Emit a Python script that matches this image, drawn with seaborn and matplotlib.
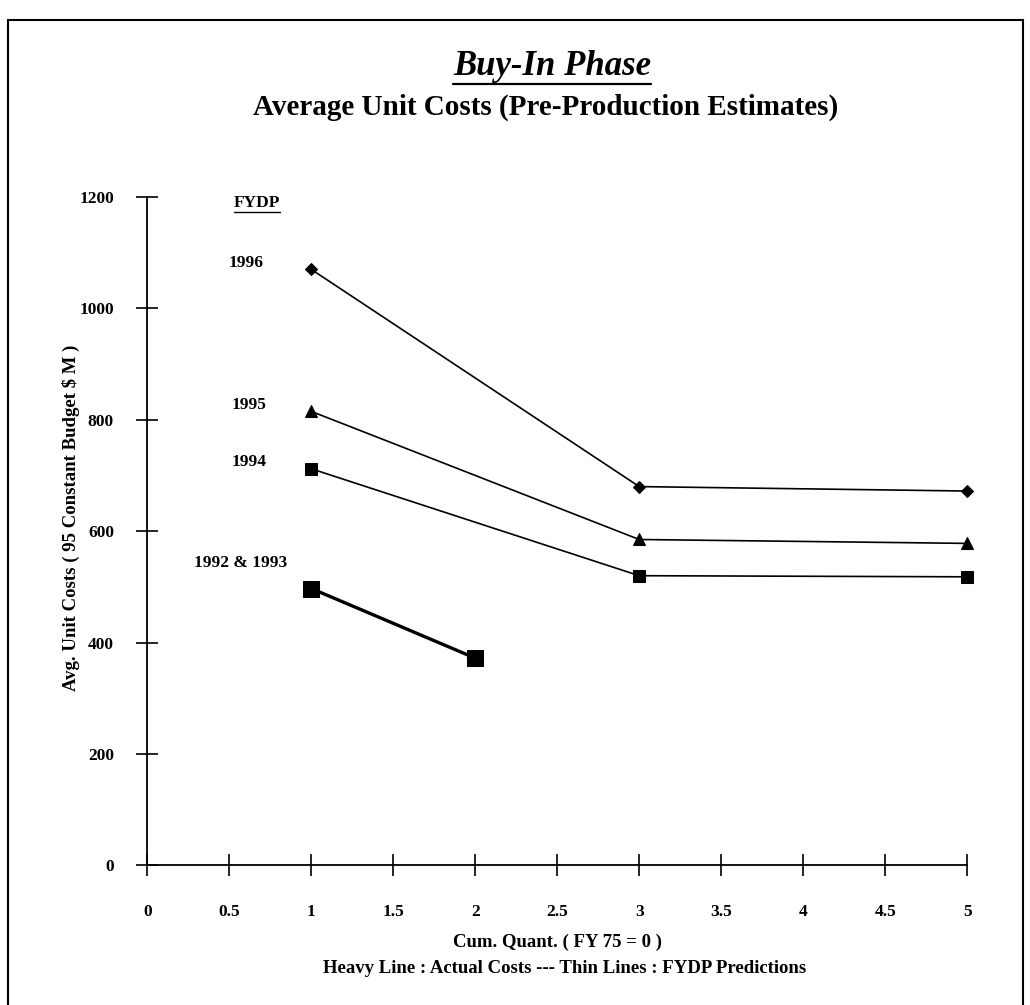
import matplotlib

matplotlib.use("Agg")
import matplotlib.pyplot as plt
import pandas as pd
import seaborn as sns
from matplotlib.lines import Line2D
from matplotlib.patches import Rectangle

# values
cum_quant_pred = [1, 3, 5]
fydp_1996 = [1070, 680, 672]
fydp_1995 = [815, 585, 578]
fydp_1994 = [712, 520, 518]
cum_quant_actual = [1, 2]
actual_1992_93 = [497, 372]

x_ticks = [0, 0.5, 1, 1.5, 2, 2.5, 3, 3.5, 4, 4.5, 5]
x_tick_labels = ["0", "0.5", "1", "1.5", "2", "2.5", "3", "3.5", "4", "4.5", "5"]
y_ticks = [0, 200, 400, 600, 800, 1000, 1200]

series_labels = ["1996", "1995", "1994", "1992 & 1993"]


def underline(fig, txt, pad=2, lw=1.2):
    r = fig.canvas.get_renderer()
    bb = txt.get_window_extent(renderer=r)
    inv = fig.transFigure.inverted()
    (x0, y0), (x1, _) = inv.transform([(bb.x0, bb.y0 - pad), (bb.x1, bb.y0 - pad)])
    fig.add_artist(Line2D([x0, x1], [y0, y0], color="black", lw=lw, transform=fig.transFigure))


def main() -> None:
    sns.set_style("ticks")
    plt.rcParams["font.family"] = ["Liberation Serif", "DejaVu Serif"]
    plt.rcParams["font.weight"] = "bold"
    plt.rcParams["text.color"] = "black"
    plt.rcParams["axes.labelcolor"] = "black"
    plt.rcParams["xtick.color"] = "black"
    plt.rcParams["ytick.color"] = "black"
    plt.rcParams["axes.edgecolor"] = "black"

    fig = plt.figure(figsize=(10.3, 10.05), dpi=100)
    ax = fig.add_axes([0.143, 0.139, 0.796, 0.665])

    pred = pd.DataFrame({
        "x": cum_quant_pred * 3,
        "y": fydp_1996 + fydp_1995 + fydp_1994,
        "fydp": ["1996"] * 3 + ["1995"] * 3 + ["1994"] * 3,
    })
    markers = {"1996": "D", "1995": "^", "1994": "s"}
    sizes = {"1996": 6, "1995": 8, "1994": 8}
    for name, grp in pred.groupby("fydp", sort=False):
        sns.lineplot(data=grp, x="x", y="y", ax=ax, color="black", lw=1.2,
                     marker=markers[name], markersize=sizes[name],
                     markeredgecolor="black", clip_on=False)

    sns.lineplot(x=cum_quant_actual, y=actual_1992_93, ax=ax, color="black", lw=2.4,
                 marker="s", markersize=11, markeredgecolor="black", clip_on=False)

    ax.set_xlim(0, 5)
    ax.set_ylim(0, 1200)
    ax.set_xticks(x_ticks)
    ax.set_xticklabels(x_tick_labels)
    ax.set_yticks(y_ticks)
    sns.despine(ax=ax)
    ax.spines["left"].set_linewidth(1.3)
    ax.spines["bottom"].set_linewidth(1.3)
    ax.spines["left"].set_bounds(0, 1200)
    ax.spines["bottom"].set_bounds(0, 5)
    ax.tick_params(direction="inout", length=16, width=1.2)
    ax.tick_params(axis="x", pad=20, labelsize=12.5)
    ax.tick_params(axis="y", pad=16, labelsize=12.5)
    for lab in ax.get_xticklabels() + ax.get_yticklabels():
        lab.set_fontweight("bold")

    ax.set_xlabel("Cum. Quant. ( FY 75 = 0 )", fontsize=13.5, fontweight="bold", labelpad=10)
    ax.set_ylabel("Avg. Unit Costs ( 95 Constant Budget $ M )", fontsize=13.5,
                  fontweight="bold", labelpad=0)
    ax.yaxis.set_label_coords(-0.082, 0.52)
    fig.text(0.548, 0.036, "Heavy Line : Actual Costs --- Thin Lines : FYDP Predictions",
             ha="center", va="center", fontsize=13.5, fontweight="bold")

    fydp = ax.text(0.67, 1190, "FYDP", ha="center", va="center", fontsize=12.5, fontweight="bold")
    ax.text(0.6, 1082, series_labels[0], ha="center", va="center", fontsize=12.5, fontweight="bold")
    ax.text(0.62, 827, series_labels[1], ha="center", va="center", fontsize=12.5, fontweight="bold")
    ax.text(0.62, 725, series_labels[2], ha="center", va="center", fontsize=12.5, fontweight="bold")
    ax.text(0.57, 543, series_labels[3], ha="center", va="center", fontsize=12.5, fontweight="bold")

    t1 = fig.text(0.536, 0.934, "Buy-In Phase", ha="center", va="center", fontsize=25,
                  fontweight="bold", fontstyle="italic")
    fig.text(0.53, 0.893, "Average Unit Costs (Pre-Production Estimates)", ha="center",
             va="center", fontsize=21, fontweight="bold")

    fig.canvas.draw()
    underline(fig, t1, pad=1, lw=1.6)
    underline(fig, fydp, pad=1, lw=1.0)

    fig.add_artist(Rectangle((0.008, -0.02), 0.985, 1.0, transform=fig.transFigure,
                             fill=False, edgecolor="black", lw=1.5))

    fig.savefig("out.png", dpi=100)
    plt.close(fig)


if __name__ == "__main__":
    main()
